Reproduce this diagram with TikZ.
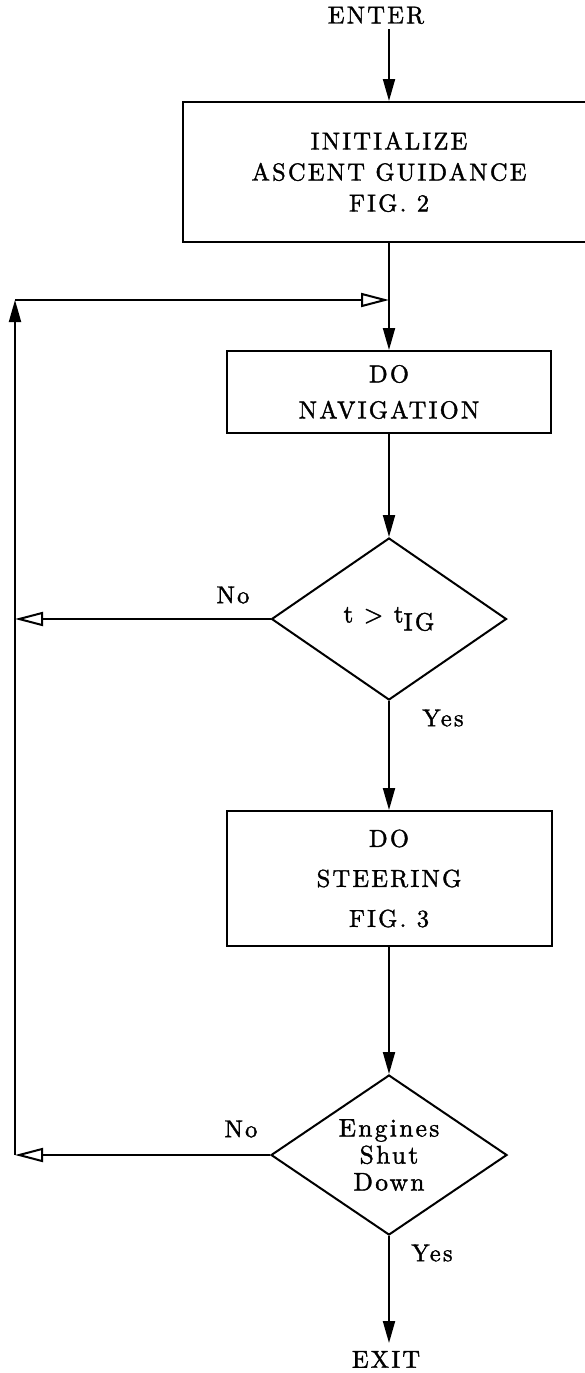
\documentclass[tikz,border=0pt]{standalone}
\usepackage{fontspec}
\setmainfont{lmroman10-regular.otf}[LetterSpace=9,FakeBold=1.5]
\usetikzlibrary{shapes.geometric,arrows.meta}
\begin{document}
\begin{tikzpicture}[x=1pt,y=-1pt, line width=2pt,
  txt/.style={font=\fontsize{24.5}{31}\selectfont},
  boxnode/.style={draw, rectangle, align=center, inner sep=0pt},
  decision/.style={draw, diamond, align=center, inner sep=0pt, shape aspect=1.46},
  flow/.style={-{Triangle[width=12pt,length=22pt]}},
  back/.style={-{Triangle[open,fill=white,width=14pt,length=28pt]}},
  lbl/.style={txt, inner sep=0pt}]
\useasboundingbox (0,0) rectangle (584,1373);

\node[txt, inner xsep=0pt, inner ysep=4pt, anchor=south] (enter) at (376,29) {ENTER};

\node[boxnode, minimum width=412pt, minimum height=140pt,
  font=\fontsize{24.5}{31}\selectfont] (init) at (389,172)
  {INITIALIZE\\ASCENT GUIDANCE\\FIG. 2};

\node[boxnode, minimum width=324pt, minimum height=82pt,
  font=\fontsize{24.5}{36}\selectfont] (nav) at (389,392)
  {DO\\NAVIGATION};

\node[decision, minimum width=235pt, minimum height=162pt,
  font=\fontsize{25}{31}\selectfont] (d1) at (389,619)
  {t > t\raisebox{-8pt}{IG}};

\node[boxnode, minimum width=325pt, minimum height=135pt,
  font=\fontsize{24.5}{40}\selectfont] (steer) at (389,878.5)
  {DO\\STEERING\\FIG. 3};

\node[decision, minimum width=236pt, minimum height=160pt,
  font=\fontsize{25.5}{27}\selectfont] (d2) at (389,1155)
  {Engines\\Shut\\Down};

\node[txt, inner xsep=0pt, inner ysep=7pt, anchor=north] (exit) at (386,1343) {EXIT};

\node[lbl] (no1) at (233,595) {No};
\node[lbl] (yes1) at (443,718) {Yes};
\node[lbl] (no2) at (241,1129) {No};
\node[lbl] (yes2) at (432,1253) {Yes};

\coordinate (l1) at (15,619);
\coordinate (l2) at (15,1155);
\coordinate (tl) at (15,300);
\coordinate (j) at (389,300);

\draw[flow] (enter.south -| init.north) -- (init.north);
\draw[flow] (init.south) -- (nav.north);
\draw[flow] (nav.south) -- (d1.north);
\draw[flow] (d1.south) -- (steer.north);
\draw[flow] (steer.south) -- (d2.north);
\draw[flow] (d2.south) -- (d2.south |- exit.north);

\draw[back] (d1.west) -- (l1);
\draw[back] (d2.west) -- (l2);
\draw[flow] (l2) -- (tl);
\draw[back] (tl) -- (j);
\end{tikzpicture}
\end{document}
